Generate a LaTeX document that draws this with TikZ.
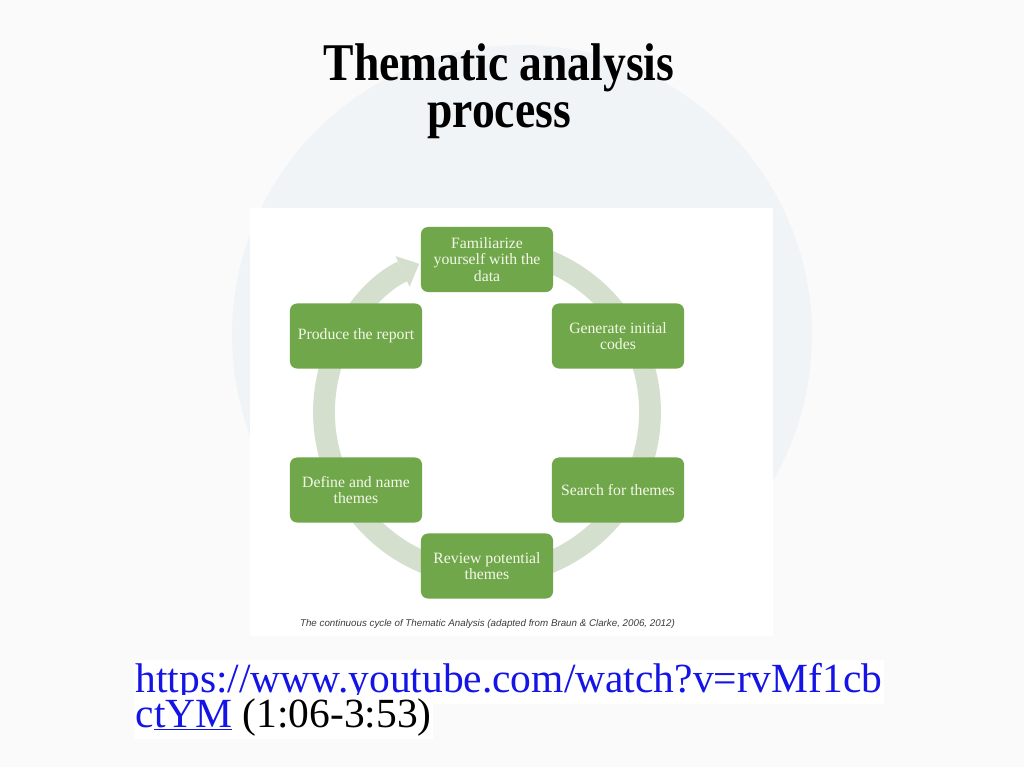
\documentclass[tikz,border=0pt]{standalone}
\usepackage{fontspec}
\setmainfont{Liberation Serif}
\newfontfamily\titlefont[FakeStretch=0.86]{Liberation Serif}
\newfontfamily\capfont{Liberation Sans}
\usetikzlibrary{arrows.meta,calc}

\definecolor{pagebg}{RGB}{250,250,251}
\definecolor{globe}{RGB}{241,244,247}
\definecolor{stagegreen}{RGB}{112,167,74}
\definecolor{stagetext}{RGB}{244,248,232}
\definecolor{ringgreen}{RGB}{212,223,206}
\definecolor{capgray}{RGB}{60,60,60}
\definecolor{urlblue}{RGB}{20,20,230}

\begin{document}
\begin{tikzpicture}[
    x=0.025cm, y=0.025cm,
    stage/.style={fill=stagegreen, rounded corners=5pt, align=center, text=stagetext,
        font=\fontsize{11.2}{11.8}\selectfont, minimum width=3.3cm, minimum height=1.625cm, inner sep=2pt},
    ring/.style={draw=ringgreen, line width=15.5pt, -{Triangle[width=24pt, length=13pt, line width=0pt]}},
    ttl/.style={font=\titlefont\bfseries\fontsize{37.7}{34}\selectfont, align=center},
    note/.style={font=\capfont\itshape\fontsize{6.95}{7}\selectfont, text=capgray},
    link/.style={font=\fontsize{29.5}{30}\selectfont, fill=white, inner xsep=1pt, inner ysep=2pt}
]

% page and faint globe behind
\useasboundingbox (0,0) rectangle (1024,-767);
\fill[pagebg] (0,0) rectangle (1024,-767);
\fill[globe] (522,-335) circle[radius=290];

% title
\node[ttl, anchor=base] (title) at (499,-128) {Thematic analysis\\process};

% picture panel
\fill[white] (250,-208) rectangle (773,-636);

% ring behind the stages
\coordinate (hub) at (487,-412);
\draw[ring] ($(hub)+(80:163)$) arc[start angle=80, end angle=-245.4, radius=163];

% six stages
\node[stage] (fam)  at (487,-259.5) {Familiarize\\yourself with the\\data};
\node[stage] (gen)  at (618,-336)   {Generate initial\\codes};
\node[stage] (srch) at (618,-490)   {Search for themes};
\node[stage] (rev)  at (487,-566)   {Review potential\\themes};
\node[stage] (defn) at (356,-490)   {Define and name\\themes};
\node[stage] (prod) at (356,-336)   {Produce the report};

\node[note, anchor=base] (cap) at (487.5,-626)
{The continuous cycle of Thematic Analysis (adapted from Braun \& Clarke, 2006, 2012)};

% video link
\node[link, anchor=base west] (url) at (134,-692)
{\textcolor{urlblue}{https://www.youtube.com/watch?v=rvMf1cb}};
\node[link, anchor=base west] (urlb) at (134,-727)
{\textcolor{urlblue}{c\underline{tYM}} (1:06-3:53)};

\end{tikzpicture}
\end{document}
